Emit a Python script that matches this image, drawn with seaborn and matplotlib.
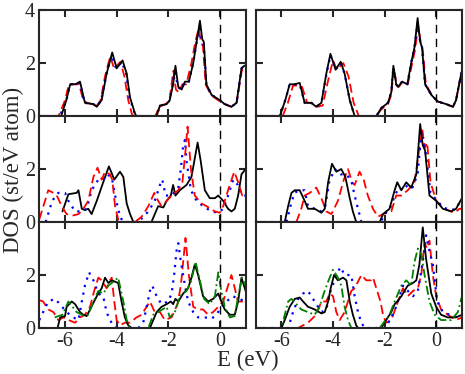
import seaborn as sns
import matplotlib.pyplot as plt

# ---- data (energy in eV, DOS in st/eV atom) ----
# top left
e_tl_k = [-7, -6.15, -5.95, -5.8, -5.6, -5.42, -5.23, -4.9, -4.77, -4.58, -4.39, -4.17, -4.0, -3.77, -3.61, -3.48, -3.29, -3.23,
          -2.45, -2.32, -2.06, -1.94, -1.81, -1.72, -1.61, -1.48, -1.35, -1.2, -1.03, -0.9, -0.77, -0.68, -0.62, -0.52, -0.32,
          0, 0.19, 0.45, 0.65, 0.84, 0.95, 1.0]
d_tl_k = [0, 0, 0.6, 1.2, 1.2, 1.3, 0.5, 0.45, 0.35, 0.6, 1.6, 2.4, 1.8, 2.1, 1.6, 0.7, 0.1, 0,
          0, 0.4, 0.45, 0.6, 1.2, 1.9, 1.1, 1.0, 1.3, 1.3, 2.0, 2.8, 3.6, 2.9, 2.8, 1.2, 0.8,
          0.6, 0.45, 0.35, 0.5, 1.8, 1.9, 1.9]
e_tl_r = [-7, -6.25, -6.0, -5.85, -5.6, -5.45, -5.3, -5.15, -4.95, -4.8, -4.62, -4.45, -4.25, -4.1, -3.85, -3.7, -3.55, -3.4, -3.3,
          -2.5, -2.35, -2.1, -1.95, -1.87, -1.8, -1.7, -1.6, -1.45, -1.3, -1.1, -0.95, -0.82, -0.75, -0.65, -0.55, -0.35,
          0, 0.2, 0.45, 0.65, 0.85, 0.95, 1.0]
d_tl_r = [0, 0, 0.6, 1.2, 1.2, 1.2, 0.6, 0.5, 0.45, 0.35, 0.6, 1.5, 2.25, 1.8, 2.05, 1.5, 0.6, 0.05, 0,
          0, 0.35, 0.45, 0.6, 1.2, 1.7, 1.0, 0.9, 1.2, 1.2, 2.0, 2.8, 3.3, 2.9, 2.6, 1.2, 0.8,
          0.55, 0.45, 0.35, 0.5, 1.7, 1.9, 1.9]
e_tl_b = [-7, -6.2, -5.95, -5.8, -5.6, -5.42, -5.25, -4.9, -4.77, -4.6, -4.4, -4.2, -4.02, -3.8, -3.63, -3.5, -3.3, -3.25,
          -2.45, -2.32, -2.06, -1.94, -1.83, -1.75, -1.63, -1.5, -1.35, -1.2, -1.03, -0.9, -0.78, -0.7, -0.63, -0.52, -0.32,
          0, 0.19, 0.45, 0.65, 0.84, 0.95, 1.0]
d_tl_b = [0, 0, 0.6, 1.2, 1.2, 1.25, 0.5, 0.45, 0.35, 0.6, 1.55, 2.3, 1.8, 2.05, 1.6, 0.7, 0.1, 0,
          0, 0.4, 0.45, 0.6, 1.2, 1.8, 1.1, 1.0, 1.3, 1.3, 2.0, 2.8, 3.3, 2.9, 2.7, 1.2, 0.8,
          0.6, 0.45, 0.35, 0.5, 1.8, 1.9, 1.9]

# top right
e_tr_k = [-7, -6.06, -5.85, -5.68, -5.5, -5.29, -5.1, -4.84, -4.65, -4.45, -4.26, -4.1, -3.9, -3.7, -3.55, -3.35, -3.16,
          -2.32, -2.13, -1.87, -1.74, -1.66, -1.55, -1.48, -1.32, -1.12, -0.97, -0.84, -0.72, -0.62, -0.55, -0.43, -0.19,
          0.06, 0.39, 0.65, 0.77, 0.97, 1.0]
d_tr_k = [0, 0, 0.6, 1.2, 1.2, 1.25, 0.5, 0.5, 0.35, 0.5, 1.6, 2.35, 1.75, 2.05, 1.6, 0.6, 0,
          0, 0.3, 0.5, 0.9, 1.9, 1.2, 1.1, 1.3, 1.2, 2.0, 2.6, 3.7, 2.8, 2.6, 1.2, 0.8,
          0.55, 0.45, 0.35, 0.6, 1.6, 1.7]
e_tr_r = [-7, -5.95, -5.75, -5.55, -5.35, -5.2, -5.0, -4.8, -4.6, -4.4, -4.2, -4.0, -3.85, -3.6, -3.4, -3.2, -3.0,
          -2.32, -2.13, -1.87, -1.74, -1.64, -1.53, -1.45, -1.3, -1.1, -0.95, -0.82, -0.7, -0.6, -0.52, -0.4, -0.17,
          0.06, 0.39, 0.65, 0.77, 0.97, 1.0]
d_tr_r = [0, 0, 0.5, 1.15, 1.15, 1.1, 0.5, 0.5, 0.35, 0.4, 1.3, 2.1, 1.75, 2.0, 1.5, 0.5, 0,
          0, 0.25, 0.45, 0.8, 1.8, 1.2, 1.1, 1.3, 1.2, 1.9, 2.5, 3.4, 2.8, 2.5, 1.2, 0.8,
          0.55, 0.45, 0.35, 0.6, 1.6, 1.7]
e_tr_b = [-7, -6.06, -5.85, -5.68, -5.5, -5.29, -5.1, -4.84, -4.65, -4.45, -4.26, -4.1, -3.9, -3.7, -3.55, -3.35, -3.16,
          -2.32, -2.13, -1.87, -1.74, -1.66, -1.55, -1.48, -1.32, -1.12, -0.97, -0.84, -0.72, -0.62, -0.55, -0.43, -0.19,
          0.06, 0.39, 0.65, 0.77, 0.97, 1.0]
d_tr_b = [0, 0, 0.6, 1.2, 1.2, 1.2, 0.5, 0.5, 0.35, 0.5, 1.55, 2.3, 1.75, 2.0, 1.6, 0.6, 0,
          0, 0.3, 0.5, 0.9, 1.85, 1.2, 1.1, 1.3, 1.2, 2.0, 2.6, 3.5, 2.8, 2.6, 1.2, 0.8,
          0.55, 0.45, 0.35, 0.6, 1.6, 1.7]

# middle left
e_ml_k = [-6.1, -5.87, -5.55, -5.48, -5.35, -5.23, -5.1, -4.97, -4.77, -4.52, -4.3, -4.09, -3.87, -3.74, -3.61, -3.48, -3.35,
          -2.65, -2.52, -2.39, -2.19, -2.06, -1.9, -1.81, -1.72, -1.55, -1.29, -1.1, -0.86, -0.74, -0.58, -0.39, -0.19,
          -0.06, 0.13, 0.32, 0.45, 0.58, 0.71, 0.84, 1.0]
d_ml_k = [0.4, 1.05, 1.1, 1.2, 0.5, 0.45, 0.5, 0.3, 0.8, 1.5, 2.1, 1.6, 1.9, 1.7, 0.7, 0.3, 0,
          0, 0.3, 0.6, 0.55, 0.8, 1.0, 1.4, 1.0, 1.2, 1.4, 1.7, 3.0, 2.3, 1.2, 0.9, 0.9,
          1.0, 0.8, 0.5, 0.4, 0.5, 1.0, 1.8, 2.0]
e_ml_r = [-7, -6.65, -6.45, -6.32, -6.13, -5.94, -5.68, -5.48, -5.29, -5.1, -4.9, -4.74, -4.58, -4.45, -4.26, -4.17, -4.06,
          -3.94, -3.81, -3.29, -3.03, -2.77, -2.54, -2.39, -2.26, -2.06, -1.87, -1.61, -1.45, -1.32, -1.25, -1.12, -0.97,
          -0.71, -0.52, -0.19, 0, 0.13, 0.32, 0.56, 0.71, 0.87, 1.0]
d_ml_r = [0.1, 1.2, 1.1, 1.0, 0.6, 0.3, 0.25, 0.3, 0.5, 0.8, 1.7, 2.05, 1.6, 1.9, 1.8, 1.6, 0.6,
          0.1, 0, 0, 0.2, 0.6, 1.1, 0.8, 0.6, 0.8, 1.0, 1.2, 1.5, 2.8, 3.6, 2.0, 1.0,
          0.7, 0.6, 0.4, 0.35, 0.6, 1.2, 1.9, 1.5, 1.0, 1.0]
e_ml_b = [-6.75, -6.5, -6.26, -6.0, -5.87, -5.61, -5.35, -5.16, -4.97, -4.71, -4.52, -4.39, -4.19, -4.06, -3.87, -3.74,
          -3.16, -2.77, -2.52, -2.32, -2.23, -2.1, -1.87, -1.61, -1.51, -1.42, -1.35, -1.29, -1.12, -0.9, -0.65, -0.32,
          -0.06, 0.13, 0.32, 0.52, 0.7, 0.87, 1.0]
d_ml_b = [0, 0.8, 1.1, 1.1, 0.8, 0.4, 0.4, 0.5, 1.2, 1.6, 1.6, 1.8, 1.7, 1.0, 0.2, 0,
          0, 0.4, 0.8, 1.4, 1.6, 1.0, 1.0, 1.3, 2.0, 2.9, 3.1, 2.3, 1.2, 0.8, 0.6, 0.4,
          0.35, 0.5, 1.0, 1.6, 1.4, 1.0, 1.0]

# middle right
e_mr_k = [-7, -5.87, -5.74, -5.61, -5.48, -5.29, -5.1, -4.97, -4.71, -4.45, -4.32, -4.19, -4.04, -3.87, -3.68, -3.52,
          -3.35, -3.23, -3.1, -2.19, -2.06, -1.81, -1.61, -1.51, -1.35, -1.16, -0.97, -0.77, -0.62, -0.52, -0.43, -0.26,
          0, 0.26, 0.58, 0.77, 0.94, 1.0]
d_mr_k = [0, 0, 0.6, 1.1, 1.2, 1.2, 0.8, 0.5, 0.5, 0.35, 0.5, 1.5, 2.2, 1.9, 2.0, 1.7,
          0.9, 0.4, 0, 0, 0.3, 0.5, 1.2, 1.5, 1.2, 1.5, 1.3, 1.8, 3.7, 2.9, 2.7, 1.0,
          0.8, 0.5, 0.4, 0.5, 0.8, 0.9]
e_mr_b = [-7, -5.8, -5.65, -5.5, -5.3, -5.1, -4.97, -4.71, -4.45, -4.3, -4.15, -3.94, -3.8, -3.7, -3.5, -3.3,
          -3.16, -3.03, -2.9, -2.15, -2.0, -1.8, -1.6, -1.45, -1.3, -1.1, -0.92, -0.72, -0.57, -0.5, -0.42, -0.22,
          0, 0.26, 0.58, 0.77, 0.94, 1.0]
d_mr_b = [0, 0, 0.6, 1.1, 1.2, 1.2, 0.6, 0.5, 0.4, 0.6, 1.5, 2.0, 1.9, 1.8, 1.8, 1.6,
          1.0, 0.5, 0, 0, 0.3, 0.5, 1.0, 1.3, 1.2, 1.4, 1.3, 1.8, 3.4, 3.0, 2.7, 1.1,
          0.85, 0.55, 0.45, 0.5, 0.8, 0.9]
e_mr_r = [-7, -5.42, -5.23, -5.1, -4.9, -4.65, -4.45, -4.26, -4.06, -3.81, -3.58, -3.42, -3.26, -3.16, -2.97, -2.81,
          -2.65, -2.45, -2.26, -2.06, -1.74, -1.55, -1.35, -1.1, -0.84, -0.65, -0.54, -0.44, -0.35, -0.22,
          0, 0.32, 0.71, 0.9, 1.0]
d_mr_r = [0, 0, 0.5, 1.0, 1.1, 1.3, 0.9, 0.4, 0.3, 0.8, 1.6, 2.0, 1.5, 1.4, 1.9, 1.6,
          1.0, 0.5, 0.2, 0.3, 0.4, 1.0, 1.0, 1.2, 1.5, 2.8, 3.5, 2.8, 3.0, 1.5,
          0.8, 0.5, 0.35, 0.5, 0.5]

# bottom left
e_bl_k = [-6.29, -6.19, -6.0, -5.94, -5.74, -5.61, -5.42, -5.29, -5.16, -5.03, -4.77, -4.58, -4.45, -4.32, -4.19, -3.94,
          -3.81, -3.68, -3.55, -3.42, -2.71, -2.58, -2.45, -2.26, -2.06, -1.9, -1.81, -1.72, -1.61, -1.42, -1.23, -1.1,
          -0.97, -0.84, -0.65, -0.45, -0.26, -0.06, 0.06, 0.19, 0.39, 0.58, 0.71, 0.84, 1.0]
d_bl_k = [0, 0.4, 0.45, 0.8, 1.0, 0.9, 0.6, 0.5, 0.45, 0.7, 1.2, 1.5, 1.9, 1.7, 1.8, 1.7,
          1.0, 0.4, 0.1, 0, 0, 0.3, 0.6, 0.8, 0.9, 1.0, 0.9, 1.1, 1.0, 1.3, 1.5, 1.9,
          2.4, 2.0, 1.2, 1.0, 1.1, 1.3, 1.0, 0.7, 0.5, 0.5, 1.0, 1.9, 1.4]
e_bl_g = [-6.4, -6.1, -5.87, -5.55, -5.35, -5.1, -4.9, -4.71, -4.52, -4.32, -4.06, -3.94, -3.74, -3.61, -3.48,
          -2.77, -2.58, -2.39, -2.06, -1.94, -1.74, -1.55, -1.29, -1.1, -0.94, -0.8, -0.61, -0.39, -0.19, -0.06,
          0.04, 0.19, 0.39, 0.58, 0.71, 0.86, 1.0]
d_bl_g = [0.4, 0.5, 1.0, 0.6, 0.5, 0.5, 1.0, 1.4, 1.3, 1.6, 1.8, 1.9, 1.0, 0.3, 0,
          0, 0.5, 0.6, 0.8, 0.4, 0.6, 1.2, 1.4, 1.8, 2.5, 1.9, 1.1, 0.9, 1.2, 2.1,
          1.5, 0.8, 0.4, 0.45, 1.2, 1.9, 1.6]
e_bl_r = [-7, -6.85, -6.65, -6.45, -6.26, -6.06, -5.87, -5.61, -5.42, -5.23, -5.03, -4.87, -4.71, -4.58, -4.39, -4.26,
          -4.19, -4.09, -4.0, -3.87, -3.68, -3.48, -3.23, -3.03, -2.84, -2.71, -2.52, -2.32, -2.13, -1.87, -1.64, -1.51,
          -1.42, -1.33, -1.2, -1.03, -0.84, -0.65, -0.45, -0.26, -0.06, 0.13, 0.32, 0.45, 0.58, 0.71, 1.0]
d_bl_r = [1.05, 1.0, 0.7, 0.6, 0.3, 0.4, 0.3, 0.2, 0.4, 0.5, 0.8, 1.4, 1.9, 1.8, 1.5, 1.8,
          1.9, 1.0, 0.3, 0.1, 0.2, 0.2, 0.4, 0.5, 0.8, 1.0, 0.6, 0.6, 0.3, 0.4, 0.9, 1.6,
          2.5, 3.4, 2.0, 0.8, 0.7, 0.7, 0.5, 0.6, 0.8, 1.0, 1.6, 2.0, 1.5, 1.0, 1.0]
e_bl_b = [-7, -6.65, -6.39, -6.2, -5.94, -5.68, -5.48, -5.35, -5.23, -5.07, -4.9, -4.71, -4.52, -4.39, -4.26, -4.13,
          -4.0, -3.16, -2.97, -2.81, -2.71, -2.62, -2.45, -2.26, -2.0, -1.87, -1.77, -1.68, -1.61, -1.51, -1.35, -1.23,
          -1.03, -0.84, -0.58, -0.32, -0.13, 0.06, 0.26, 0.5, 0.75, 1.0]
d_bl_b = [0.3, 1.0, 1.1, 0.9, 0.6, 0.4, 0.3, 1.0, 1.6, 2.1, 1.8, 1.3, 1.2, 0.6, 0.3, 0.1,
          0, 0, 0.2, 0.9, 1.4, 1.6, 1.2, 0.9, 1.0, 1.3, 2.0, 2.9, 3.2, 2.5, 1.6, 1.0,
          0.6, 0.4, 0.4, 0.35, 0.5, 0.8, 1.0, 1.2, 1.1, 1.0]

# bottom right
e_br_k = [-7, -6.0, -5.87, -5.68, -5.48, -5.29, -5.16, -4.97, -4.71, -4.45, -4.32, -4.19, -4.09, -3.96, -3.81, -3.61,
          -3.48, -3.35, -3.23, -3.1, -3.03, -2.13, -1.94, -1.74, -1.61, -1.51, -1.35, -1.23, -1.1, -0.9, -0.77, -0.65,
          -0.52, -0.39, -0.19, 0, 0.19, 0.45, 0.77, 1.0]
d_br_k = [0, 0, 0.3, 0.8, 1.1, 1.15, 1.0, 0.8, 0.7, 0.55, 0.6, 1.0, 1.5, 2.0, 1.8, 1.9,
          1.8, 1.0, 0.5, 0.1, 0, 0, 0.3, 0.6, 0.9, 1.0, 1.2, 1.4, 1.6, 1.7, 1.8, 2.4,
          3.8, 2.6, 1.3, 0.8, 0.5, 0.4, 0.4, 0.5]
e_br_g = [-7, -6.0, -5.74, -5.61, -5.42, -5.23, -4.97, -4.71, -4.52, -4.36, -4.17, -4.0, -3.81, -3.68, -3.55, -3.42,
          -3.29, -2.19, -1.81, -1.61, -1.35, -1.16, -0.97, -0.84, -0.71, -0.58, -0.45, -0.26, -0.06, 0.19, 0.58, 0.84, 1.0]
d_br_g = [0, 0, 1.0, 1.1, 0.9, 0.7, 0.6, 0.5, 0.8, 1.3, 1.8, 2.2, 1.9, 1.6, 0.8, 0.3,
          0, 0, 0.5, 1.0, 1.6, 1.8, 1.6, 2.5, 3.0, 2.8, 2.0, 1.0, 0.5, 0.3, 0.3, 0.6, 1.2]
e_br_b = [-7, -5.74, -5.55, -5.35, -5.16, -4.97, -4.71, -4.45, -4.26, -4.09, -3.87, -3.71, -3.55, -3.29, -3.16, -3.03,
          -2.9, -2.77, -1.97, -1.74, -1.55, -1.29, -1.1, -0.9, -0.71, -0.52, -0.39, -0.26, -0.13, 0.04, 0.26, 0.52, 0.84, 1.0]
d_br_b = [0, 0, 0.6, 1.1, 1.3, 1.4, 1.0, 0.6, 0.7, 1.4, 2.0, 2.3, 2.0, 2.0, 1.2, 0.6,
          0.2, 0, 0, 0.4, 0.8, 1.6, 1.4, 1.2, 1.4, 2.5, 3.5, 2.9, 2.4, 1.0, 0.6, 0.5, 0.4, 0.5]
e_br_r = [-7, -5.35, -4.97, -4.65, -4.45, -4.26, -4.13, -4.0, -3.87, -3.74, -3.55, -3.29, -3.16, -2.9, -2.71, -2.52,
          -2.45, -2.32, -2.16, -2.06, -1.94, -1.74, -1.48, -1.29, -1.1, -0.9, -0.71, -0.58, -0.45, -0.35, -0.26, -0.13,
          0, 0.19, 0.45, 0.77, 1.0]
d_br_r = [0, 0, 0.2, 0.5, 1.0, 1.0, 1.3, 1.2, 0.6, 0.3, 0.6, 1.4, 1.5, 2.0, 1.8, 1.8,
          1.9, 1.5, 1.0, 0.5, 0.2, 0.3, 1.0, 1.5, 1.2, 1.4, 1.5, 2.0, 3.2, 3.0, 3.3, 2.0,
          1.2, 0.7, 0.5, 0.3, 0.4]

# line styles per curve type
styles = {
    'k': dict(color='black', linestyle='-', linewidth=1.3),
    'b': dict(color='#0000ff', linestyle=(0, (1, 2.5)), linewidth=1.6),
    'r': dict(color='#ff0000', linestyle=(0, (5, 2.5)), linewidth=1.3),
    'g': dict(color='#008000', linestyle=(0, (5, 1.8, 1, 1.8)), linewidth=1.3),
}

panels = [
    [[('r', e_tl_r, d_tl_r), ('b', e_tl_b, d_tl_b), ('k', e_tl_k, d_tl_k)],
     [('r', e_tr_r, d_tr_r), ('b', e_tr_b, d_tr_b), ('k', e_tr_k, d_tr_k)]],
    [[('k', e_ml_k, d_ml_k), ('b', e_ml_b, d_ml_b), ('r', e_ml_r, d_ml_r)],
     [('r', e_mr_r, d_mr_r), ('b', e_mr_b, d_mr_b), ('k', e_mr_k, d_mr_k)]],
    [[('r', e_bl_r, d_bl_r), ('b', e_bl_b, d_bl_b), ('k', e_bl_k, d_bl_k), ('g', e_bl_g, d_bl_g)],
     [('r', e_br_r, d_br_r), ('b', e_br_b, d_br_b), ('k', e_br_k, d_br_k), ('g', e_br_g, d_br_g)]],
]

sns.set_style('ticks')
plt.rcParams['font.family'] = ['Liberation Serif', 'DejaVu Serif']
plt.rcParams['axes.linewidth'] = 1.5
plt.rcParams['axes.unicode_minus'] = False

fig, axes = plt.subplots(3, 2, figsize=(4.65, 3.74), dpi=100, sharex=True)
fig.subplots_adjust(left=0.0844, right=0.9935, top=0.973, bottom=0.123, hspace=0, wspace=0.0485)

for r in range(3):
    for c in range(2):
        ax = axes[r, c]
        for kind, e, d in panels[r][c]:
            sns.lineplot(x=e, y=d, ax=ax, sort=False, **styles[kind])
        ax.axvline(0, color='black', linestyle=(0, (6, 4)), linewidth=1.0)
        ax.set_xlim(-7, 1)
        ax.set_ylim(0, 4)
        ax.set_xticks([-6, -4, -2, 0])
        ax.set_yticks([0, 2, 4] if r == 0 else [0, 2])
        ax.tick_params(direction='in', top=True, right=True, length=5, width=1.5, labelsize=14.5, pad=3)
        if c == 1:
            ax.tick_params(labelleft=False)
        if r < 2:
            ax.tick_params(labelbottom=False)
        ax.set_xlabel('')
        ax.set_ylabel('')

fig.text(0.03, 0.545, 'DOS (st/eV atom)', rotation=90, ha='center', va='center', fontsize=16.5)
fig.text(0.534, 0.035, 'E (eV)', ha='center', va='center', fontsize=16.5)

plt.savefig('out.png', dpi=100)
